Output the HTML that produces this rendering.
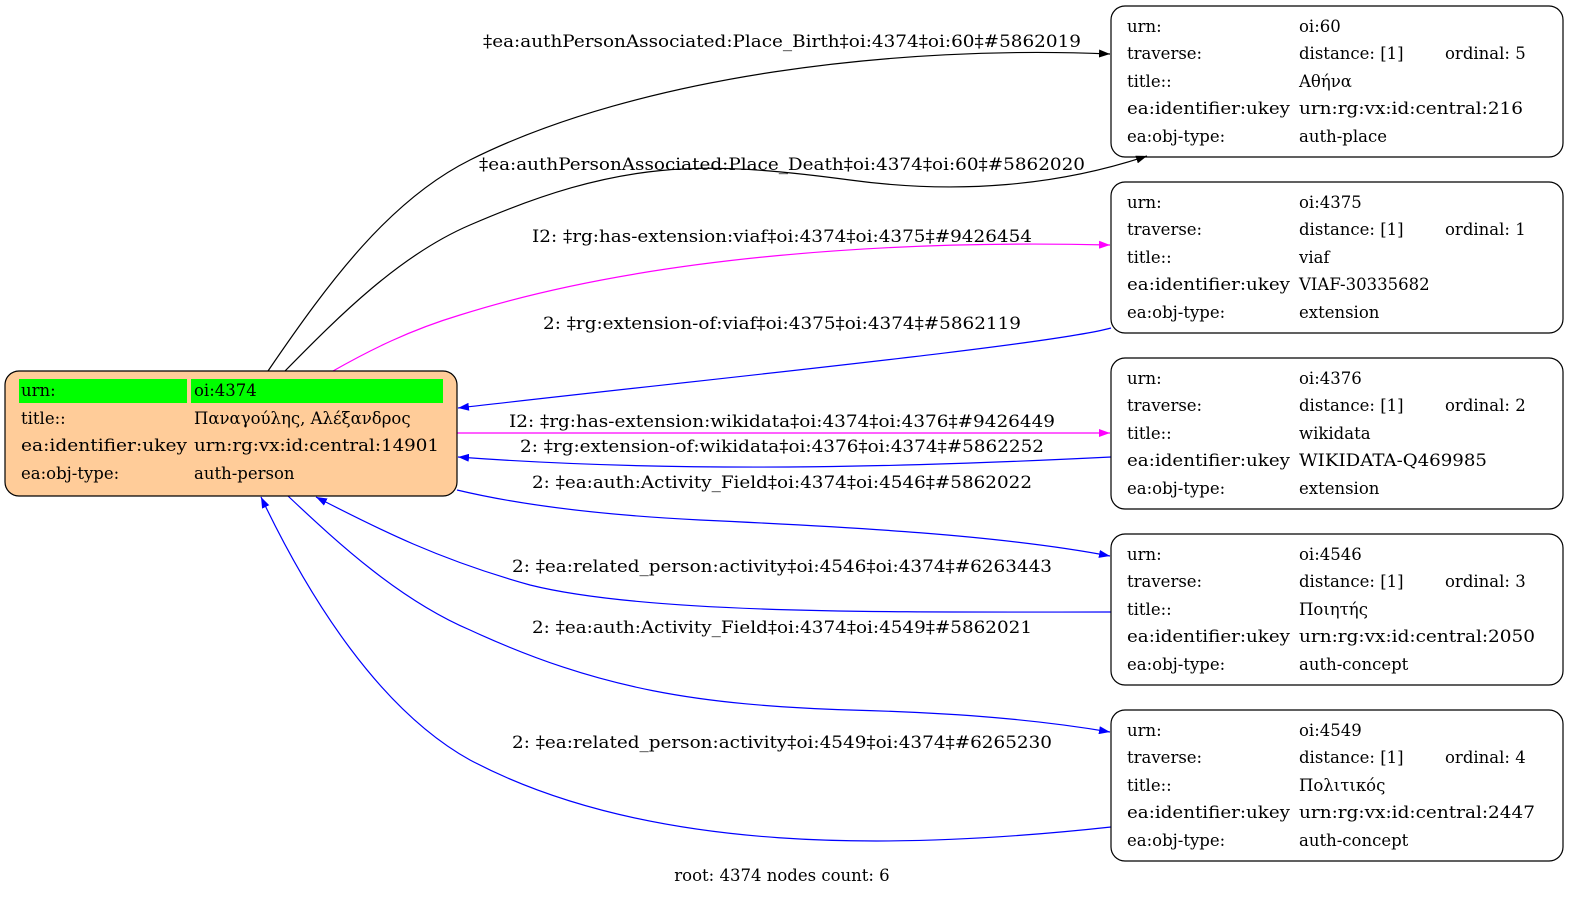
<!DOCTYPE html>
<html><head><meta charset="utf-8"><style>
html,body{margin:0;padding:0;background:#fff;}
svg{display:block;font-family:"DejaVu Serif","Liberation Serif",serif;font-size:16.5px;}
</style></head><body>
<svg width="1592" height="911" viewBox="0 0 1592 911" xmlns="http://www.w3.org/2000/svg">
<defs>
<marker id="ak" markerWidth="12" markerHeight="8" refX="11" refY="4" orient="auto" markerUnits="userSpaceOnUse"><path d="M0,0 L11,4 L0,8 z" fill="#000"/></marker>
<marker id="ab" markerWidth="12" markerHeight="8" refX="11" refY="4" orient="auto" markerUnits="userSpaceOnUse"><path d="M0,0 L11,4 L0,8 z" fill="#00f"/></marker>
<marker id="am" markerWidth="12" markerHeight="8" refX="11" refY="4" orient="auto" markerUnits="userSpaceOnUse"><path d="M0,0 L11,4 L0,8 z" fill="#f0f"/></marker>
</defs>
<g fill="none" stroke-width="1.2">
<path d="M268,371 C330,280 390,200 470,160 C640,75 900,45 1110,54" stroke="#000" marker-end="url(#ak)"/>
<path d="M285,371 C340,315 400,255 470,225 C620,160 700,160 850,180 C960,195 1060,185 1147,156" stroke="#000" marker-end="url(#ak)"/>
<path d="M333,371 C370,350 410,330 460,315 C650,255 900,240 1110,245" stroke="#f0f" marker-end="url(#am)"/>
<path d="M1111,328 C1050,345 700,380 458,408" stroke="#00f" marker-end="url(#ab)"/>
<path d="M457,433 L1110,433" stroke="#f0f" marker-end="url(#am)"/>
<path d="M1111,457 C950,465 700,475 458,457" stroke="#00f" marker-end="url(#ab)"/>
<path d="M457,490 C520,505 600,515 700,520 C850,527 1000,535 1110,556" stroke="#00f" marker-end="url(#ab)"/>
<path d="M1111,612 C900,612 650,615 530,585 C440,560 380,530 316,497" stroke="#00f" marker-end="url(#ab)"/>
<path d="M288,496 C340,545 400,600 470,630 C600,690 700,705 850,710 C960,713 1040,720 1110,732" stroke="#00f" marker-end="url(#ab)"/>
<path d="M1111,827 C900,850 650,855 470,760 C380,710 310,600 261,497" stroke="#00f" marker-end="url(#ab)"/>
</g>
<g text-anchor="middle" fill="#000">
<text x="782" y="47" textLength="598" lengthAdjust="spacingAndGlyphs">‡ea:authPersonAssociated:Place_Birth‡oi:4374‡oi:60‡#5862019</text>
<text x="782" y="170" textLength="606" lengthAdjust="spacingAndGlyphs">‡ea:authPersonAssociated:Place_Death‡oi:4374‡oi:60‡#5862020</text>
<text x="782" y="242" textLength="500" lengthAdjust="spacingAndGlyphs">I2: ‡rg:has-extension:viaf‡oi:4374‡oi:4375‡#9426454</text>
<text x="782" y="329" textLength="478" lengthAdjust="spacingAndGlyphs">2: ‡rg:extension-of:viaf‡oi:4375‡oi:4374‡#5862119</text>
<text x="782" y="427" textLength="546" lengthAdjust="spacingAndGlyphs">I2: ‡rg:has-extension:wikidata‡oi:4374‡oi:4376‡#9426449</text>
<text x="782" y="452" textLength="524" lengthAdjust="spacingAndGlyphs">2: ‡rg:extension-of:wikidata‡oi:4376‡oi:4374‡#5862252</text>
<text x="782" y="488" textLength="500" lengthAdjust="spacingAndGlyphs">2: ‡ea:auth:Activity_Field‡oi:4374‡oi:4546‡#5862022</text>
<text x="782" y="572" textLength="540" lengthAdjust="spacingAndGlyphs">2: ‡ea:related_person:activity‡oi:4546‡oi:4374‡#6263443</text>
<text x="782" y="633" textLength="500" lengthAdjust="spacingAndGlyphs">2: ‡ea:auth:Activity_Field‡oi:4374‡oi:4549‡#5862021</text>
<text x="782" y="748" textLength="540" lengthAdjust="spacingAndGlyphs">2: ‡ea:related_person:activity‡oi:4549‡oi:4374‡#6265230</text>
<text x="782" y="881">root: 4374 nodes count: 6</text>
</g>
<!-- left node -->
<rect x="5" y="371" width="452" height="125" rx="14" fill="#ffcc99" stroke="#000" stroke-width="1.2"/>
<rect x="19" y="379" width="168" height="24" fill="#00ff00"/>
<rect x="191" y="379" width="252" height="24" fill="#00ff00"/>
<g fill="#000">
<text x="21" y="396">urn:</text><text x="194" y="396">oi:4374</text>
<text x="21" y="424">title::</text><text x="194" y="424">Παναγούλης, Αλέξανδρος</text>
<text x="21" y="451" textLength="166" lengthAdjust="spacingAndGlyphs">ea:identifier:ukey</text><text x="194" y="451" textLength="245" lengthAdjust="spacingAndGlyphs">urn:rg:vx:id:central:14901</text>
<text x="21" y="479">ea:obj-type:</text><text x="194" y="479">auth-person</text>
</g>
<!-- right nodes -->
<g fill="none" stroke="#000" stroke-width="1.2">
<rect x="1111" y="6" width="452" height="151" rx="14"/>
<rect x="1111" y="182" width="452" height="151" rx="14"/>
<rect x="1111" y="358" width="452" height="151" rx="14"/>
<rect x="1111" y="534" width="452" height="151" rx="14"/>
<rect x="1111" y="710" width="452" height="151" rx="14"/>
</g>
<g fill="#000">
<g transform="translate(0,0)">
<text x="1127" y="32">urn:</text><text x="1299" y="32">oi:60</text>
<text x="1127" y="59">traverse:</text><text x="1299" y="59">distance: [1]</text><text x="1445" y="59">ordinal: 5</text>
<text x="1127" y="87">title::</text><text x="1299" y="87">Αθήνα</text>
<text x="1127" y="114" textLength="163" lengthAdjust="spacingAndGlyphs">ea:identifier:ukey</text><text x="1299" y="114" textLength="224" lengthAdjust="spacingAndGlyphs">urn:rg:vx:id:central:216</text>
<text x="1127" y="142">ea:obj-type:</text><text x="1299" y="142">auth-place</text>
</g>
<g transform="translate(0,176)">
<text x="1127" y="32">urn:</text><text x="1299" y="32">oi:4375</text>
<text x="1127" y="59">traverse:</text><text x="1299" y="59">distance: [1]</text><text x="1445" y="59">ordinal: 1</text>
<text x="1127" y="87">title::</text><text x="1299" y="87">viaf</text>
<text x="1127" y="114" textLength="163" lengthAdjust="spacingAndGlyphs">ea:identifier:ukey</text><text x="1299" y="114">VIAF-30335682</text>
<text x="1127" y="142">ea:obj-type:</text><text x="1299" y="142">extension</text>
</g>
<g transform="translate(0,352)">
<text x="1127" y="32">urn:</text><text x="1299" y="32">oi:4376</text>
<text x="1127" y="59">traverse:</text><text x="1299" y="59">distance: [1]</text><text x="1445" y="59">ordinal: 2</text>
<text x="1127" y="87">title::</text><text x="1299" y="87">wikidata</text>
<text x="1127" y="114" textLength="163" lengthAdjust="spacingAndGlyphs">ea:identifier:ukey</text><text x="1299" y="114" textLength="188" lengthAdjust="spacingAndGlyphs">WIKIDATA-Q469985</text>
<text x="1127" y="142">ea:obj-type:</text><text x="1299" y="142">extension</text>
</g>
<g transform="translate(0,528)">
<text x="1127" y="32">urn:</text><text x="1299" y="32">oi:4546</text>
<text x="1127" y="59">traverse:</text><text x="1299" y="59">distance: [1]</text><text x="1445" y="59">ordinal: 3</text>
<text x="1127" y="87">title::</text><text x="1299" y="87">Ποιητής</text>
<text x="1127" y="114" textLength="163" lengthAdjust="spacingAndGlyphs">ea:identifier:ukey</text><text x="1299" y="114" textLength="236" lengthAdjust="spacingAndGlyphs">urn:rg:vx:id:central:2050</text>
<text x="1127" y="142">ea:obj-type:</text><text x="1299" y="142">auth-concept</text>
</g>
<g transform="translate(0,704)">
<text x="1127" y="32">urn:</text><text x="1299" y="32">oi:4549</text>
<text x="1127" y="59">traverse:</text><text x="1299" y="59">distance: [1]</text><text x="1445" y="59">ordinal: 4</text>
<text x="1127" y="87">title::</text><text x="1299" y="87">Πολιτικός</text>
<text x="1127" y="114" textLength="163" lengthAdjust="spacingAndGlyphs">ea:identifier:ukey</text><text x="1299" y="114" textLength="236" lengthAdjust="spacingAndGlyphs">urn:rg:vx:id:central:2447</text>
<text x="1127" y="142">ea:obj-type:</text><text x="1299" y="142">auth-concept</text>
</g>
</g>
</svg>
</body></html>
